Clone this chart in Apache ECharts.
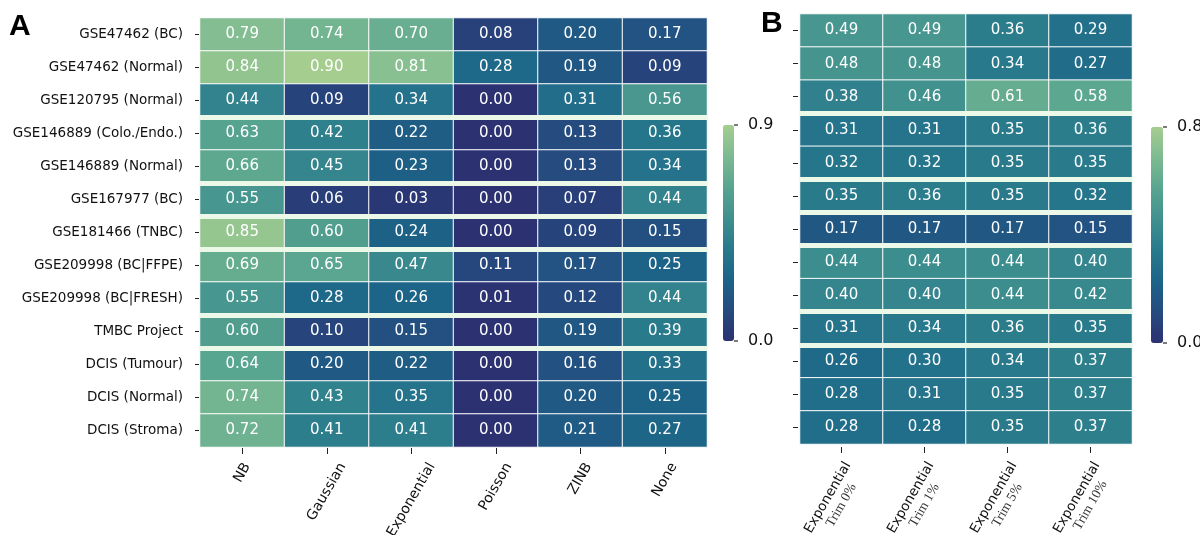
<!DOCTYPE html>
<html>
<head>
<meta charset="utf-8">
<script src="https://cdn.jsdelivr.net/npm/echarts@6/dist/echarts.min.js"></script>
<style>
    html, body {margin: 0; padding: 0; background: #fff;}
    #app {width: 1200px; height: 535px;}
</style>
</head>
<body>
<div id="app"></div>
<script>
// rows (datasets), shared by both panels
var datasets = ['GSE47462 (BC)', 'GSE47462 (Normal)', 'GSE120795 (Normal)', 'GSE146889 (Colo./Endo.)',
    'GSE146889 (Normal)', 'GSE167977 (BC)', 'GSE181466 (TNBC)', 'GSE209998 (BC|FFPE)',
    'GSE209998 (BC|FRESH)', 'TMBC Project', 'DCIS (Tumour)', 'DCIS (Normal)', 'DCIS (Stroma)']

// panel A: noise models
var methodsA = ['NB', 'Gaussian', 'Exponential', 'Poisson', 'ZINB', 'None']
var valuesA = [
    [0.79, 0.74, 0.70, 0.08, 0.20, 0.17],
    [0.84, 0.90, 0.81, 0.28, 0.19, 0.09],
    [0.44, 0.09, 0.34, 0.00, 0.31, 0.56],
    [0.63, 0.42, 0.22, 0.00, 0.13, 0.36],
    [0.66, 0.45, 0.23, 0.00, 0.13, 0.34],
    [0.55, 0.06, 0.03, 0.00, 0.07, 0.44],
    [0.85, 0.60, 0.24, 0.00, 0.09, 0.15],
    [0.69, 0.65, 0.47, 0.11, 0.17, 0.25],
    [0.55, 0.28, 0.26, 0.01, 0.12, 0.44],
    [0.60, 0.10, 0.15, 0.00, 0.19, 0.39],
    [0.64, 0.20, 0.22, 0.00, 0.16, 0.33],
    [0.74, 0.43, 0.35, 0.00, 0.20, 0.25],
    [0.72, 0.41, 0.41, 0.00, 0.21, 0.27]
]

// panel B: exponential with trimming
var methodB = 'Exponential'
var trimsB = ['Trim 0%', 'Trim 1%', 'Trim 5%', 'Trim 10%']
var valuesB = [
    [0.49, 0.49, 0.36, 0.29],
    [0.48, 0.48, 0.34, 0.27],
    [0.38, 0.46, 0.61, 0.58],
    [0.31, 0.31, 0.35, 0.36],
    [0.32, 0.32, 0.35, 0.35],
    [0.35, 0.36, 0.35, 0.32],
    [0.17, 0.17, 0.17, 0.15],
    [0.44, 0.44, 0.44, 0.40],
    [0.40, 0.40, 0.44, 0.42],
    [0.31, 0.34, 0.36, 0.35],
    [0.26, 0.30, 0.34, 0.37],
    [0.28, 0.31, 0.35, 0.37],
    [0.28, 0.28, 0.35, 0.37]
]

// rows where a new dataset group starts (gap drawn above)
var groupStarts = [2, 3, 5, 6, 7, 9, 10]

var rangeA = [0, 0.9]
var rangeB = [0, 0.8]

// crest_r
var crest = ['#2c3172', '#254b7f', '#1c6488', '#287a8c', '#40908e', '#59a590', '#7dba91', '#a5cd90']

var toCells = (rows) => {
    var out = []
    rows.forEach((row, y) => {
        row.forEach((v, x) => out.push([x, y, v]))
    })
    return out
}

var font = 'DejaVu Sans'
var serif = 'Liberation Serif'

// text width, used to centre rotated tick labels under their ticks
var ctx = document.createElement('canvas').getContext('2d')
var measure = (text, f) => {
    ctx.font = f
    return ctx.measureText(text).width
}

// padding for a 60deg label (align center, verticalAlign top) so its box hangs from labelTop
var labelPad = (L, H, axisY, labelTop, dx) => {
    var s = labelTop + 0.433 * L + 0.25 * H - axisY
    var a = -0.866 * s + dx / 2
    var b = 0.5 * s + 0.866 * dx
    return [Math.max(b - H / 2, 0), a < 0 ? -2 * a : 0, 0, a > 0 ? 2 * a : 0]
}

var gridA = {left: 200, top: 18, width: 507, height: 429, outerBoundsMode: 'none'}
var gridB = {left: 800, top: 14, width: 332, height: 430, outerBoundsMode: 'none'}

var xDataA = methodsA.map((m) => ({
    value: m,
    textStyle: {
        align: 'center',
        verticalAlign: 'top',
        padding: labelPad(measure(m, `14px "${font}"`), 16, gridA.top + gridA.height + 1, 460, 0)
    }
}))

var xDataB = trimsB.map((t) => {
    var L = Math.max(measure(methodB, `13.5px "${font}"`), measure(t, `13.5px "${serif}"`))
    return {
        value: t,
        textStyle: {
            align: 'center',
            verticalAlign: 'top',
            padding: labelPad(L, 31, gridB.top + gridB.height + 3, 459, -7)
        }
    }
})

var chart = echarts.init(document.getElementById('app'))

var yAxisBase = (grid, showLabel, offset, len) => ({
    gridIndex: grid,
    type: 'category',
    data: datasets,
    inverse: true,
    offset: offset,
    z: 3,
    axisLine: {show: false},
    axisTick: {show: true, alignWithLabel: true, length: len, lineStyle: {color: '#222'}},
    axisLabel: {show: showLabel, fontFamily: font, fontSize: 13.5, color: '#111', margin: 16},
    splitLine: {
        show: true,
        interval: (i) => groupStarts.indexOf(i) >= 0,
        showMinLine: false,
        showMaxLine: false,
        lineStyle: {color: '#ecf9e8', width: 5}
    }
})

var cellLabel = {
    show: true,
    formatter: (p) => p.value[2].toFixed(2),
    color: '#fff',
    fontFamily: font,
    fontSize: 15
}

var colorbar = (x, top, h, max) => [
    {type: 'line', shape: {x1: x, y1: top, x2: x + 4, y2: top}, style: {stroke: '#222', lineWidth: 1.2}},
    {type: 'line', shape: {x1: x, y1: top + h, x2: x + 4, y2: top + h}, style: {stroke: '#222', lineWidth: 1.2}},
    {type: 'text', x: x + 14, y: top, style: {text: max.toFixed(1), font: '16px "DejaVu Sans"', fill: '#111', textVerticalAlign: 'middle'}},
    {type: 'text', x: x + 14, y: top + h, style: {text: '0.0', font: '16px "DejaVu Sans"', fill: '#111', textVerticalAlign: 'middle'}}
]

chart.setOption({
    animation: false,
    backgroundColor: '#fff',
    grid: [gridA, gridB],
    xAxis: [
        {
            gridIndex: 0,
            type: 'category',
            data: xDataA,
            offset: 1,
            axisLine: {show: false},
            axisTick: {show: true, alignWithLabel: true, length: 6, lineStyle: {color: '#222'}},
            axisLabel: {
                interval: 0, rotate: 60, margin: 0,
                fontFamily: font, fontSize: 14, lineHeight: 16, color: '#111'
            }
        },
        {
            gridIndex: 1,
            type: 'category',
            data: xDataB,
            offset: 3,
            axisLine: {show: false},
            axisTick: {show: true, alignWithLabel: true, length: 6, lineStyle: {color: '#222'}},
            axisLabel: {
                interval: 0,
                rotate: 60,
                margin: 0,
                formatter: (v) => `{a|${methodB}}\n{b|${v}}`,
                rich: {
                    a: {fontFamily: font, fontSize: 13.5, color: '#111', align: 'center', lineHeight: 16},
                    b: {fontFamily: serif, fontSize: 13.5, color: '#333', align: 'center', lineHeight: 15}
                }
            }
        }
    ],
    yAxis: [yAxisBase(0, true, 1, 4), yAxisBase(1, false, 2, 5)],
    visualMap: [
        {
            type: 'continuous', seriesIndex: 0, min: rangeA[0], max: rangeA[1],
            inRange: {color: crest}, calculable: false, hoverLink: false,
            left: 723, top: 125, itemWidth: 11, itemHeight: 216, padding: 0
        },
        {
            type: 'continuous', seriesIndex: 1, min: rangeB[0], max: rangeB[1],
            inRange: {color: crest}, calculable: false, hoverLink: false,
            left: 1151, top: 127, itemWidth: 12, itemHeight: 216, padding: 0
        }
    ],
    series: [
        {
            type: 'heatmap', xAxisIndex: 0, yAxisIndex: 0,
            data: toCells(valuesA),
            label: cellLabel,
            itemStyle: {borderColor: '#fff', borderWidth: 1},
            emphasis: {disabled: true}
        },
        {
            type: 'heatmap', xAxisIndex: 1, yAxisIndex: 1,
            data: toCells(valuesB),
            label: cellLabel,
            itemStyle: {borderColor: '#fff', borderWidth: 1},
            emphasis: {disabled: true}
        }
    ],
    graphic: [
        {type: 'text', x: 9, y: 12, style: {text: 'A', font: 'bold 30px "Liberation Sans"', fill: '#000'}},
        {type: 'text', x: 761, y: 9, style: {text: 'B', font: 'bold 30px "Liberation Sans"', fill: '#000'}}
    ].concat(colorbar(734, 125, 216, rangeA[1]), colorbar(1163, 127, 216, rangeB[1]))
})
</script>
</body>
</html>
